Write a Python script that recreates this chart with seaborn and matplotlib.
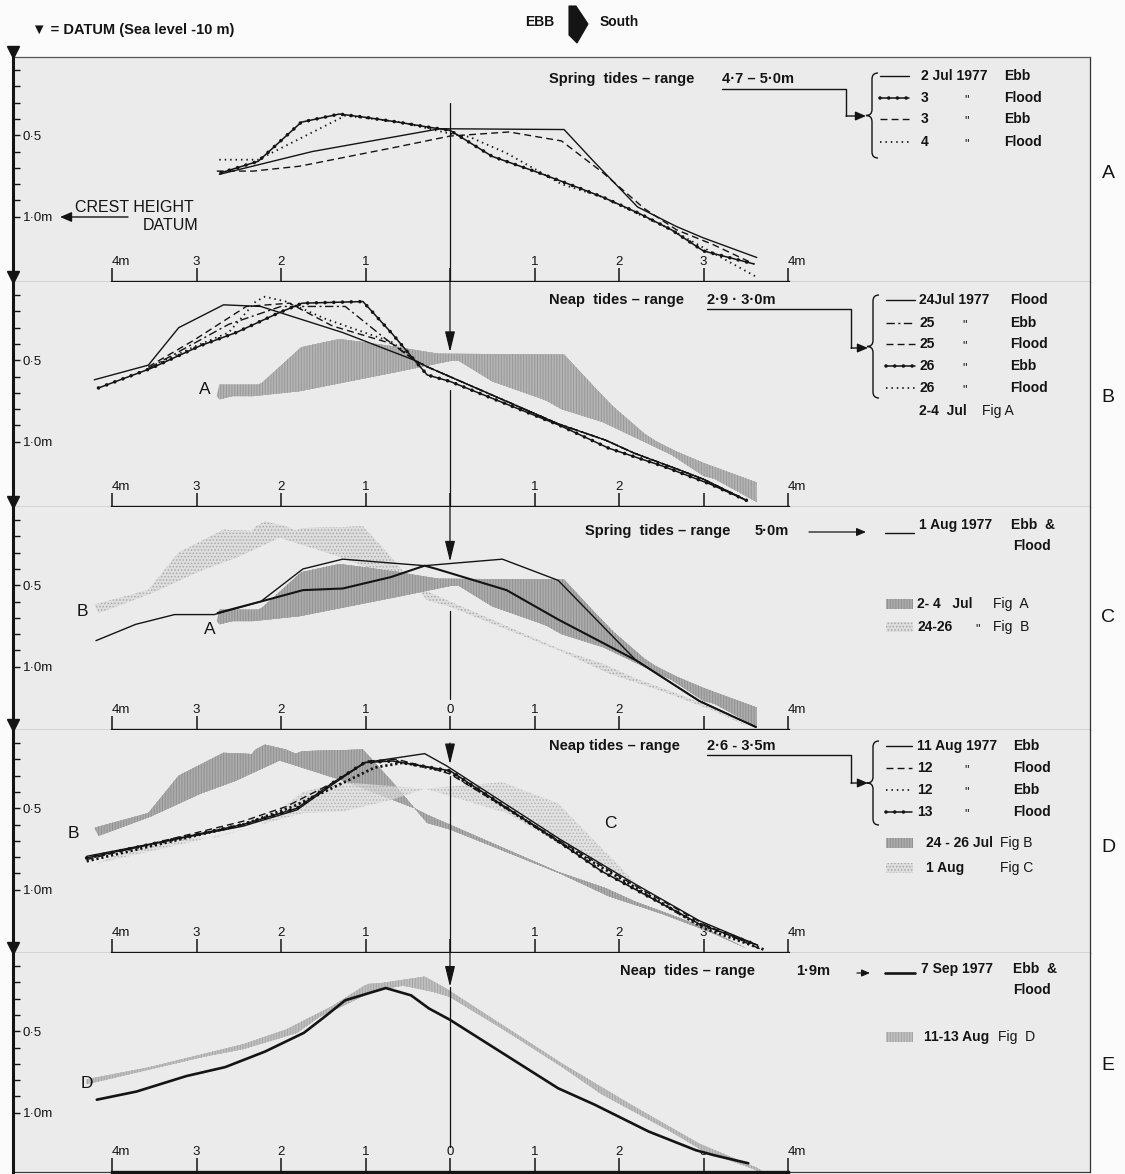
import numpy as np
import matplotlib
matplotlib.use("Agg")
import matplotlib.pyplot as plt
import seaborn as sns
from matplotlib.patches import Rectangle, Polygon, PathPatch
from matplotlib.path import Path

sns.set_theme(style="white")
plt.rcParams["font.family"] = ["Liberation Sans", "DejaVu Sans"]
plt.rcParams["hatch.linewidth"] = 0.7

# Bar profiles: distance from the crest line (m, north negative) and depth below crest datum (m)

# A - spring tides, 2-4 Jul 1977
A_jul2_ebb_x = [-2.73, -1.63, -0.12, 1.35, 1.70, 2.22, 2.68, 3.00, 3.63]
A_jul2_ebb_y = [0.74, 0.60, 0.46, 0.465, 0.66, 0.94, 1.06, 1.13, 1.25]
A_jul3_flood_x = [-2.71, -2.27, -1.76, -1.31, -1.00, -0.61, -0.26, 0.00, 0.50, 1.05, 1.51, 1.81, 2.24, 2.62, 3.00, 3.60]
A_jul3_flood_y = [0.73, 0.66, 0.42, 0.37, 0.39, 0.42, 0.45, 0.47, 0.63, 0.73, 0.82, 0.88, 0.98, 1.08, 1.21, 1.29]
A_jul3_ebb_x = [-2.76, -2.33, -1.78, -0.61, 0.00, 0.70, 1.32, 1.81, 2.30, 2.68, 3.11, 3.60]
A_jul3_ebb_y = [0.72, 0.72, 0.69, 0.57, 0.505, 0.48, 0.535, 0.73, 0.95, 1.08, 1.17, 1.29]
A_jul4_flood_x = [-2.73, -2.27, -1.43, -1.24, -0.58, 0.00, 0.23, 0.67, 1.32, 1.81, 2.62, 3.00, 3.63]
A_jul4_flood_y = [0.65, 0.65, 0.43, 0.38, 0.42, 0.49, 0.51, 0.61, 0.80, 0.88, 1.08, 1.19, 1.37]

# B - neap tides, 24-26 Jul 1977
B_jul24_flood_x = [-4.21, -3.57, -3.21, -2.68, -2.24, -1.27, -0.42, -0.27, 1.28, 1.84, 2.18, 2.70, 3.00, 3.51]
B_jul24_flood_y = [0.62, 0.53, 0.30, 0.16, 0.17, 0.33, 0.50, 0.54, 0.89, 0.99, 1.07, 1.17, 1.23, 1.36]
B_jul25_ebb_x = [-3.57, -2.62, -2.00, -1.24, -0.76, -0.42, -0.27, 1.28, 1.84, 2.18, 2.70, 3.00, 3.51]
B_jul25_ebb_y = [0.55, 0.28, 0.17, 0.17, 0.37, 0.50, 0.54, 0.89, 0.99, 1.07, 1.17, 1.23, 1.36]
B_jul25_flood_x = [-3.57, -3.04, -2.41, -1.90, -1.39, -0.68, -0.42, -0.27, 1.28, 1.84, 2.18, 2.70, 3.00, 3.51]
B_jul25_flood_y = [0.54, 0.38, 0.17, 0.15, 0.29, 0.40, 0.50, 0.54, 0.89, 0.99, 1.07, 1.17, 1.23, 1.36]
B_jul26_ebb_x = [-4.16, -3.54, -2.95, -2.53, -2.03, -1.75, -1.03, -0.68, -0.42, -0.27, 0.00, 1.30, 1.88, 2.52, 3.08, 3.51]
B_jul26_ebb_y = [0.67, 0.55, 0.41, 0.33, 0.21, 0.15, 0.14, 0.34, 0.50, 0.59, 0.63, 0.90, 1.04, 1.15, 1.26, 1.36]
B_jul26_flood_x = [-3.54, -3.04, -2.62, -2.30, -2.19, -1.94, -1.48, -0.68, -0.42, -0.27, 1.28, 1.84, 2.18, 2.70, 3.00, 3.51]
B_jul26_flood_y = [0.54, 0.42, 0.33, 0.14, 0.11, 0.14, 0.245, 0.39, 0.50, 0.54, 0.89, 0.99, 1.07, 1.17, 1.23, 1.36]

# C - spring tides, 1 Aug 1977 (ebb and flood)
C_aug1_ebb_x = [-4.19, -3.72, -3.26, -2.79, -2.24, -1.74, -1.27, -0.30, 0.62, 1.28, 2.20, 2.95, 3.62]
C_aug1_ebb_y = [0.84, 0.74, 0.68, 0.68, 0.60, 0.40, 0.34, 0.38, 0.34, 0.47, 0.96, 1.21, 1.37]
C_aug1_flood_x = [-2.75, -2.24, -1.74, -1.27, -0.70, -0.30, -0.16, 0.67, 1.28, 2.20, 2.95, 3.62]
C_aug1_flood_y = [0.67, 0.60, 0.53, 0.52, 0.45, 0.38, 0.40, 0.53, 0.71, 0.96, 1.21, 1.37]

# D - neap tides, 11-13 Aug 1977
D_aug11_ebb_x = [-4.30, -2.45, -1.81, -1.39, -1.01, -0.30, -0.04, 1.30, 2.14, 2.95, 3.64]
D_aug11_ebb_y = [0.795, 0.61, 0.51, 0.355, 0.22, 0.165, 0.24, 0.69, 0.95, 1.19, 1.34]
D_aug12_flood_x = [-4.30, -2.45, -1.94, -1.39, -0.97, -0.63, -0.25, 0.00, 1.30, 2.14, 3.00, 3.70]
D_aug12_flood_y = [0.815, 0.58, 0.49, 0.345, 0.21, 0.20, 0.25, 0.29, 0.70, 0.96, 1.21, 1.37]
D_aug12_ebb_x = [-4.30, -2.45, -1.86, -1.31, -0.89, -0.55, 0.00, 1.30, 3.00, 3.73]
D_aug12_ebb_y = [0.825, 0.60, 0.49, 0.355, 0.25, 0.22, 0.28, 0.71, 1.235, 1.37]
D_aug13_flood_x = [-4.30, -2.45, -1.81, -1.39, -1.01, -0.68, 0.00, 1.30, 1.79, 2.95, 3.64]
D_aug13_flood_y = [0.805, 0.60, 0.50, 0.345, 0.22, 0.21, 0.27, 0.71, 0.885, 1.21, 1.34]

# E - neap tides, 7 Sep 1977
E_sep7_x = [-4.18, -3.71, -3.12, -2.66, -2.19, -1.73, -1.48, -1.24, -0.76, -0.46, -0.25, 0.00,
            1.28, 1.71, 2.35, 2.91, 3.12, 3.53]
E_sep7_y = [0.92, 0.87, 0.775, 0.72, 0.625, 0.51, 0.41, 0.31, 0.235, 0.28, 0.36, 0.43,
            0.85, 0.95, 1.115, 1.23, 1.26, 1.31]

x_ticks = [-4, -3, -2, -1, 0, 1, 2, 3, 4]
x_ticklabels = {
    "A": ["4m", "3", "2", "1", "", "1", "2", "3", "4m"],
    "B": ["4m", "3", "2", "1", "", "1", "2", "", "4m"],
    "C": ["4m", "3", "2", "1", "0", "1", "2", "", "4m"],
    "D": ["4m", "3", "2", "1", "", "1", "2", "3", "4m"],
    "E": ["4m", "3", "2", "1", "0", "1", "2", "3", "4m"],
}
y_ticks = [0.1, 0.2, 0.3, 0.4, 0.5, 0.6, 0.7, 0.8, 0.9, 1.0]
y_ticklabels = ["", "", "", "", "0·5", "", "", "", "", "1·0m"]

# ---------------- layout (pixels) ----------------
W, H = 1125, 1174
LEFT, RIGHT = 13, 1090
X0, PX_M = 450, 84.5
TOPS = [57, 282, 507, 730, 953]
BOTS = [282, 507, 730, 953, 1172]
Y_TOP, PX_MD = 0.02, 163.0
INK = "#141414"
PANEL_BG = "#ebebeb"

fig = plt.figure(figsize=(W / 100, H / 100), dpi=100, facecolor="#fbfbfb")

STYLES = {
    "solid": [dict(lw=1.0)],
    "heavy": [dict(lw=1.5)],
    "bold": [dict(lw=1.9)],
    "dashed": [dict(lw=1.0, linestyle=(0, (5, 3)))],
    "dotted": [dict(lw=1.3, linestyle=(0, (0.8, 2.2)))],
    "dashdot": [dict(lw=1.0, linestyle=(0, (6, 2.5, 1.5, 2.5)))],
    "beaded": [dict(lw=1.1), dict(lw=2.6, linestyle=(0, (0.01, 2.4)), dash_capstyle="round")],
    "heavydot": [dict(lw=2.0, linestyle=(0, (0.8, 1.0)))],
}

HATCH = dict(face="#ababab", edge="#929292", hatch="||||||")
HATCH_LIGHT = dict(face="#bfbfbf", edge="#a6a6a6", hatch="||||||")
STIPPLE = dict(face="#dedede", edge="#a8a8a8", hatch=".....")


def profile(ax, x, y, style):
    for kw in STYLES[style]:
        sns.lineplot(x=x, y=y, ax=ax, sort=False, estimator=None, color=INK,
                     legend=False, zorder=4, **kw)


def band(ax, lines, sty, alpha=1.0, z=1.5):
    # envelope of a set of profiles, filled pairwise
    for i in range(len(lines)):
        for j in range(i + 1, len(lines)):
            xi, yi = lines[i]
            xj, yj = lines[j]
            ax.fill(list(xi) + list(xj)[::-1], list(yi) + list(yj)[::-1],
                    facecolor=sty["face"], edgecolor=sty["edge"], hatch=sty["hatch"],
                    lw=0, alpha=alpha, zorder=z)


def make_panel(i, key):
    t, b = TOPS[i], BOTS[i]
    ax = fig.add_axes([LEFT / W, 1 - b / H, (RIGHT - LEFT) / W, (b - t) / H])
    ax.set_facecolor(PANEL_BG)
    ybot = Y_TOP + (b - t) / PX_MD
    for sp in ax.spines.values():
        sp.set_visible(False)
    ax.spines["left"].set_visible(True)
    ax.spines["left"].set_linewidth(2.2)
    ax.spines["left"].set_color(INK)
    ax.spines["bottom"].set_visible(True)
    ax.spines["bottom"].set_linewidth(2.4)
    ax.spines["bottom"].set_color(INK)
    ax.spines["bottom"].set_bounds(-4, 4)
    ax.spines["right"].set_visible(True)
    ax.spines["right"].set_linewidth(0.9)
    ax.spines["right"].set_color("#333333")
    if i == 0:
        ax.spines["top"].set_visible(True)
        ax.spines["top"].set_linewidth(0.9)
        ax.spines["top"].set_color("#555555")
    ax.axhline(ybot, color="#3a3a3a", lw=0.9, clip_on=False, zorder=2)
    ax.set_xticks(x_ticks)
    ax.set_xticklabels(x_ticklabels[key], fontsize=9.5, color=INK)
    for lab in ax.get_xticklabels():
        if lab.get_text().endswith("m"):
            lab.set_ha("left")
    ax.tick_params(axis="x", bottom=True, direction="in", length=10, width=1.1,
                   pad=-19, color=INK)
    ax.set_yticks(y_ticks)
    ax.set_yticklabels(y_ticklabels, fontsize=9.5, color=INK, ha="left")
    ax.tick_params(axis="y", left=True, direction="in", length=5, width=1.0,
                   pad=-7, color=INK)
    return ax, ybot


def finish(ax, ybot):
    ax.set_xlim((LEFT - X0) / PX_M, (RIGHT - X0) / PX_M)
    ax.set_ylim(ybot, Y_TOP)
    ax.set_xlabel("")
    ax.set_ylabel("")


def zero_arrow(ax, y0, y1):
    ax.annotate("", xy=(0, y1), xytext=(0, y0),
                arrowprops=dict(arrowstyle="-|>,head_length=0.9,head_width=0.22",
                                color=INK, lw=0.9, shrinkA=0, shrinkB=0,
                                mutation_scale=14), zorder=5)


def zero_line(ax, y0, y1):
    ax.plot([0, 0], [y0, y1], color=INK, lw=0.9, zorder=5)


A_lines = [(A_jul2_ebb_x, A_jul2_ebb_y), (A_jul3_flood_x, A_jul3_flood_y),
           (A_jul3_ebb_x, A_jul3_ebb_y), (A_jul4_flood_x, A_jul4_flood_y)]
B_lines = [(B_jul24_flood_x, B_jul24_flood_y), (B_jul25_ebb_x, B_jul25_ebb_y),
           (B_jul25_flood_x, B_jul25_flood_y), (B_jul26_ebb_x, B_jul26_ebb_y),
           (B_jul26_flood_x, B_jul26_flood_y)]
C_lines = [(C_aug1_ebb_x, C_aug1_ebb_y), (C_aug1_flood_x, C_aug1_flood_y)]
D_lines = [(D_aug11_ebb_x, D_aug11_ebb_y), (D_aug12_flood_x, D_aug12_flood_y),
           (D_aug12_ebb_x, D_aug12_ebb_y), (D_aug13_flood_x, D_aug13_flood_y)]

# ---- A
ax, yb = make_panel(0, "A")
for (x, y), st in zip(A_lines, ["solid", "beaded", "dashed", "dotted"]):
    profile(ax, x, y, st)
zero_line(ax, 0.30, yb)
finish(ax, yb)

# ---- B
ax, yb = make_panel(1, "B")
band(ax, A_lines, dict(face="#b3b3b3", edge="#999999", hatch="||||||"))
for (x, y), st in zip(B_lines, ["solid", "dashdot", "dashed", "beaded", "dotted"]):
    profile(ax, x, y, st)
zero_arrow(ax, Y_TOP, 0.45)
zero_line(ax, 0.68, yb)
finish(ax, yb)

# ---- C
ax, yb = make_panel(2, "C")
band(ax, B_lines, STIPPLE, z=1.2)
band(ax, A_lines, HATCH, z=1.5)
profile(ax, C_aug1_ebb_x, C_aug1_ebb_y, "solid")
profile(ax, C_aug1_flood_x, C_aug1_flood_y, "heavy")
zero_arrow(ax, Y_TOP, 0.355)
zero_line(ax, 0.66, 1.20)
finish(ax, yb)

# ---- D
ax, yb = make_panel(3, "D")
band(ax, B_lines, HATCH, z=1.2)
band(ax, C_lines, STIPPLE, alpha=0.75, z=1.5)
for (x, y), st in zip(D_lines, ["solid", "dashed", "heavydot", "beaded"]):
    profile(ax, x, y, st)
zero_arrow(ax, 0.10, 0.23)
zero_line(ax, 0.30, yb)
finish(ax, yb)

# ---- E
ax, yb = make_panel(4, "E")
band(ax, D_lines, HATCH_LIGHT)
profile(ax, E_sep7_x, E_sep7_y, "bold")
zero_arrow(ax, Y_TOP, 0.227)
zero_line(ax, 0.227, 1.21)
finish(ax, yb)

# ---------------- annotation layer in pixel coordinates ----------------
ov = fig.add_axes([0, 0, 1, 1], zorder=20)
ov.set_xlim(0, W)
ov.set_ylim(H, 0)
ov.axis("off")


def T(x, y, s, size=10.5, weight="bold", ha="left", va="center", **kw):
    ov.text(x, y, s, fontsize=size, fontweight=weight, ha=ha, va=va, color=INK, **kw)


def sample(x0, x1, y, style):
    for kw in STYLES[style]:
        ov.plot([x0, x1], [y, y], color=INK, **kw)


def swatch(x0, y, sty, w=27, h=10):
    ov.add_patch(Rectangle((x0, y - h / 2), w, h, facecolor=sty["face"],
                           edgecolor=sty["edge"], hatch=sty["hatch"], lw=0))


def brace(x, y0, y1, w=6):
    m = (y0 + y1) / 2
    verts = [(x + w, y0), (x, y0), (x, y0 + w), (x, m - w), (x, m), (x - w, m),
             (x, m), (x, m + w), (x, y1 - w), (x, y1), (x + w, y1)]
    codes = [Path.MOVETO, Path.CURVE3, Path.CURVE3, Path.LINETO, Path.CURVE3, Path.CURVE3,
             Path.CURVE3, Path.CURVE3, Path.LINETO, Path.CURVE3, Path.CURVE3]
    ov.add_patch(PathPatch(Path(verts, codes), fill=False, lw=1.0, edgecolor=INK))


def arrow(x0, y0, x1, y1, lw=1.0, scale=9):
    ov.annotate("", xy=(x1, y1), xytext=(x0, y0),
                arrowprops=dict(arrowstyle="-|>,head_length=0.7,head_width=0.3",
                                color=INK, lw=lw, shrinkA=0, shrinkB=0,
                                mutation_scale=scale))


def connector(x_start, y_line, x_turn, y_arrow, x_end):
    ov.plot([x_start, x_turn, x_turn], [y_line, y_line, y_arrow], color=INK, lw=1.0)
    arrow(x_turn, y_arrow, x_end, y_arrow)


# header
T(32, 30, "▼ = DATUM (Sea level -10 m)", size=10.5)
T(525, 22, "EBB", size=10)
ov.add_patch(Polygon([(569, 6), (576, 6), (588, 24), (577, 43), (569, 35)],
                     closed=True, facecolor=INK, edgecolor=INK, lw=0.8))
T(600, 22, "South", size=10)

# datum triangles on the left axis
for t in TOPS:
    ov.plot([13], [t - 5], marker="v", ms=8, color=INK, clip_on=False)

# panel letters
for lab, y in zip("ABCDE", [173, 398, 617, 847, 1066]):
    T(1108, y, lab, size=14, weight="normal", ha="center")

# ---- panel A annotations
T(75, 208, "CREST HEIGHT", size=11.5, weight="normal")
T(143, 225, "DATUM", size=11.5, weight="normal")
arrow(128, 217, 60, 217, lw=1.0, scale=10)
T(549, 79, "Spring  tides – range", size=10.5)
T(722, 79, "4·7 – 5·0m", size=10.5)
connector(722, 89, 846, 116, 866)
brace(872, 73, 158)
rows = [76, 98, 119, 142]
for y, st, d, q, w in zip(rows, ["solid", "beaded", "dashed", "dotted"],
                          ["2 Jul 1977", "3", "3", "4"], ["", '"', '"', '"'],
                          ["Ebb", "Flood", "Ebb", "Flood"]):
    sample(880, 909, y, st)
    T(921, y, d, size=10)
    if q:
        T(964, y + 2, q, size=9, weight="normal")
    T(1004, y, w, size=10)

# ---- panel B annotations
T(549, 300, "Neap  tides – range", size=10.5)
T(707, 300, "2·9 · 3·0m", size=10.5)
connector(707, 309, 851, 348, 868)
brace(873, 295, 398)
rows = [300, 323, 344, 366, 388]
for y, st, d, q, w in zip(rows, ["solid", "dashdot", "dashed", "beaded", "dotted"],
                          ["24Jul 1977", "25", "25", "26", "26"], ["", '"', '"', '"', '"'],
                          ["Flood", "Ebb", "Flood", "Ebb", "Flood"]):
    sample(886, 915, y, st)
    T(919, y, d, size=10)
    if q:
        T(962, y + 2, q, size=9, weight="normal")
    T(1010, y, w, size=10)
T(919, 411, "2-4  Jul", size=10)
T(982, 411, "Fig A", size=10, weight="normal")
T(205, 390, "A", size=12.5, weight="normal", ha="center")

# ---- panel C annotations
T(585, 531, "Spring  tides – range", size=10.5)
T(755, 531, "5·0m", size=10.5)
arrow(809, 532, 866, 532, lw=0.9, scale=8)
sample(885, 914, 533, "solid")
T(919, 525, "1 Aug 1977", size=10)
T(1011, 525, "Ebb  &", size=10)
T(1013, 546, "Flood", size=10)
swatch(886, 604, HATCH)
T(917, 604, "2- 4   Jul", size=10)
T(993, 604, "Fig  A", size=10, weight="normal")
swatch(886, 627, STIPPLE)
T(917, 627, "24-26", size=10)
T(975, 629, '"', size=9, weight="normal")
T(993, 627, "Fig  B", size=10, weight="normal")
T(82, 612, "B", size=12.5, weight="normal", ha="center")
T(210, 629, "A", size=12.5, weight="normal", ha="center")

# ---- panel D annotations
T(549, 746, "Neap tides – range", size=10.5)
T(707, 746, "2·6 - 3·5m", size=10.5)
connector(707, 755, 851, 783, 868)
brace(873, 741, 825)
rows = [746, 768, 790, 812]
for y, st, d, q, w in zip(rows, ["solid", "dashed", "dotted", "beaded"],
                          ["11 Aug 1977", "12", "12", "13"], ["", '"', '"', '"'],
                          ["Ebb", "Flood", "Ebb", "Flood"]):
    sample(886, 912, y, st)
    T(917, y, d, size=10)
    if q:
        T(964, y + 2, q, size=9, weight="normal")
    T(1013, y, w, size=10)
swatch(886, 843, HATCH)
T(926, 843, "24 - 26 Jul", size=10)
T(1000, 843, "Fig B", size=10, weight="normal")
swatch(886, 868, STIPPLE)
T(926, 868, "1 Aug", size=10)
T(1000, 868, "Fig C", size=10, weight="normal")
T(73, 834, "B", size=12.5, weight="normal", ha="center")
T(610, 823, "C", size=12.5, weight="normal", ha="center")

# ---- panel E annotations
T(620, 971, "Neap  tides – range", size=10.5)
T(796, 971, "1·9m", size=10.5)
arrow(857, 973, 870, 973, lw=0.9, scale=7)
sample(885, 915, 973, "bold")
T(921, 969, "7 Sep 1977", size=10)
T(1013, 969, "Ebb  &", size=10)
T(1013, 990, "Flood", size=10)
swatch(886, 1037, HATCH_LIGHT)
T(924, 1037, "11-13 Aug", size=10)
T(998, 1037, "Fig  D", size=10, weight="normal")
T(87, 1083, "D", size=12.5, weight="normal", ha="center")

fig.savefig("out.png", dpi=100, facecolor=fig.get_facecolor())
